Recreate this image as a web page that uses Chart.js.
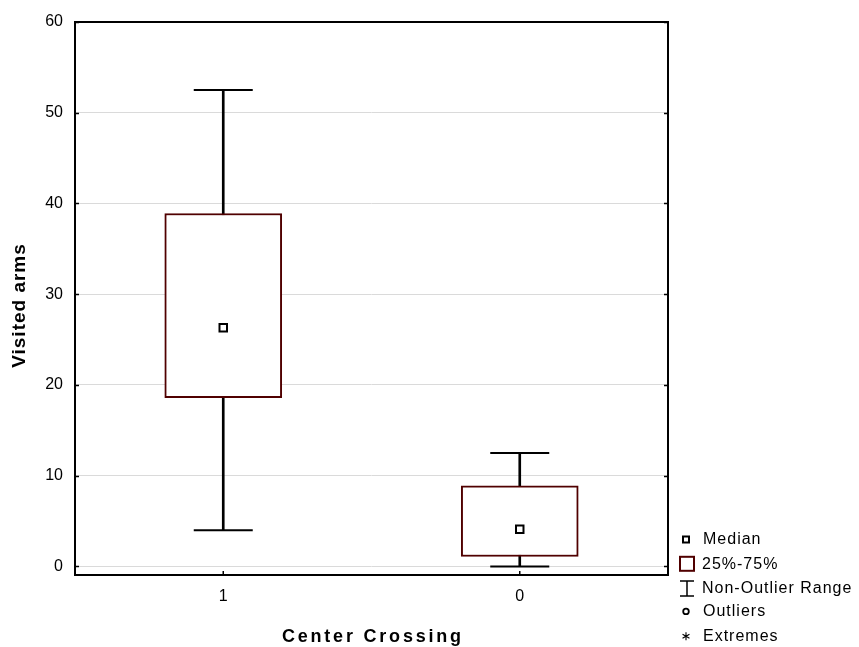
<!DOCTYPE html>
<html>
<head>
<meta charset="utf-8">
<script src="https://cdn.jsdelivr.net/npm/chart.js@4/dist/chart.umd.min.js"></script>
<style>
  html, body { margin: 0; padding: 0; background: #fff; }
  #wrap { width: 859px; height: 647px; }
</style>
</head>
<body>
<div id="wrap"><canvas id="c" width="859" height="647"></canvas></div>
<script>
// Box plot summary per group
const categories = ['1', '0'];
const medians = [26.3, 4.1];
const q1 = [18.6, 1.1];
const q3 = [38.9, 8.9];
const whiskerLow = [4.0, 0.0];
const whiskerHigh = [52.5, 12.5];
const yTicks = [0, 10, 20, 30, 40, 50, 60];
const legendLabels = ['Median', '25%-75%', 'Non-Outlier Range', 'Outliers', 'Extremes'];
const xTitle = 'Center Crossing';
const yTitle = 'Visited arms';

const FONT = "'Liberation Sans', Arial, Helvetica, sans-serif";
const BOX_COLOR = '#500000';

// Frame, inward tick marks, axis titles and the legend key
const decorPlugin = {
  id: 'decor',
  afterDraw(chart) {
    const { ctx, chartArea: a, scales: { x, y } } = chart;
    ctx.save();
    ctx.strokeStyle = '#000';
    ctx.lineWidth = 2;
    ctx.strokeRect(a.left, a.top, a.right - a.left, a.bottom - a.top);

    // tick marks pointing into the plot
    ctx.lineWidth = 1.5;
    ctx.beginPath();
    y.ticks.forEach(t => {
      const py = Math.round(y.getPixelForValue(t.value)) + 0.5;
      ctx.moveTo(a.left, py); ctx.lineTo(a.left + 4, py);
      ctx.moveTo(a.right - 4, py); ctx.lineTo(a.right, py);
    });
    categories.forEach((c, i) => {
      const px = x.getPixelForValue(i);
      ctx.moveTo(px, a.bottom); ctx.lineTo(px, a.bottom - 4);
    });
    ctx.stroke();

    // axis titles
    ctx.fillStyle = '#000';
    ctx.textAlign = 'center';
    ctx.textBaseline = 'alphabetic';
    ctx.font = 'bold 18px ' + FONT;
    ctx.letterSpacing = '2.8px';
    ctx.fillText(xTitle, (a.left + a.right) / 2 + 1.4, 642);

    ctx.save();
    ctx.translate(25, 306);
    ctx.rotate(-Math.PI / 2);
    ctx.font = 'bold 19px ' + FONT;
    ctx.letterSpacing = '1px';
    ctx.fillText(yTitle, 0.5, 0);
    ctx.restore();

    // legend key
    const rows = [539.5, 563.8, 588.1, 611.4, 636.2];
    const ix = 686;
    ctx.lineWidth = 2;
    ctx.strokeStyle = '#000';
    // median square
    ctx.strokeRect(ix - 3, rows[0] - 3, 6, 6);
    // quartile box
    ctx.strokeStyle = BOX_COLOR;
    ctx.lineWidth = 2;
    ctx.strokeRect(ix - 6, rows[1] - 7, 14, 14);
    // non-outlier range
    ctx.strokeStyle = '#000';
    ctx.lineWidth = 1.5;
    ctx.beginPath();
    ctx.moveTo(ix - 6, rows[2] - 7); ctx.lineTo(ix + 8, rows[2] - 7);
    ctx.moveTo(ix + 1, rows[2] - 7); ctx.lineTo(ix + 1, rows[2] + 8);
    ctx.moveTo(ix - 6, rows[2] + 8); ctx.lineTo(ix + 8, rows[2] + 8);
    ctx.stroke();
    // outlier circle
    ctx.lineWidth = 1.8;
    ctx.beginPath();
    ctx.arc(ix, rows[3], 2.8, 0, Math.PI * 2);
    ctx.stroke();
    // extreme asterisk
    ctx.lineWidth = 1.1;
    ctx.beginPath();
    const r = 4;
    for (let k = 0; k < 3; k++) {
      const ang = Math.PI / 2 + k * Math.PI / 3;
      ctx.moveTo(ix + Math.cos(ang) * r, rows[4] - Math.sin(ang) * r);
      ctx.lineTo(ix - Math.cos(ang) * r, rows[4] + Math.sin(ang) * r);
    }
    ctx.stroke();

    ctx.font = '16px ' + FONT;
    ctx.letterSpacing = '1px';
    ctx.textAlign = 'left';
    ctx.textBaseline = 'middle';
    ctx.fillStyle = '#000';
    const tx = [703, 702, 702, 703, 703];
    legendLabels.forEach((lbl, i) => ctx.fillText(lbl, tx[i], rows[i] + 0.5));
    ctx.restore();
  }
};

new Chart(document.getElementById('c'), {
  type: 'bar',
  data: {
    labels: categories,
    datasets: [
      {
        // whisker stems
        type: 'bar',
        data: categories.map((c, i) => [whiskerLow[i], whiskerHigh[i]]),
        backgroundColor: '#000',
        borderWidth: 0,
        barThickness: 2,
        grouped: false,
        order: 3
      },
      {
        // interquartile boxes
        type: 'bar',
        data: categories.map((c, i) => [q1[i], q3[i]]),
        backgroundColor: '#fff',
        borderColor: BOX_COLOR,
        borderWidth: 2,
        borderSkipped: false,
        barThickness: 117,
        grouped: false,
        order: 2
      },
      {
        // upper caps
        type: 'line',
        data: whiskerHigh,
        showLine: false,
        pointStyle: 'line',
        pointRadius: 29.5,
        pointBorderColor: '#000',
        pointBorderWidth: 2,
        order: 1
      },
      {
        // lower caps
        type: 'line',
        data: whiskerLow,
        showLine: false,
        pointStyle: 'line',
        pointRadius: 29.5,
        pointBorderColor: '#000',
        pointBorderWidth: 2,
        clip: false,
        order: 1
      },
      {
        // medians
        type: 'line',
        data: medians,
        showLine: false,
        pointStyle: 'rect',
        pointRadius: 5.3,
        pointBackgroundColor: '#fff',
        pointBorderColor: '#000',
        pointBorderWidth: 2,
        order: 0
      }
    ]
  },
  options: {
    responsive: false,
    devicePixelRatio: 1,
    animation: false,
    events: [],
    layout: { autoPadding: false, padding: { left: 0, right: 191, top: 22, bottom: 0 } },
    plugins: { legend: { display: false }, tooltip: { enabled: false } },
    scales: {
      x: {
        type: 'category',
        offset: true,
        grid: { display: false, drawTicks: false },
        border: { display: false },
        ticks: { color: '#000', font: { family: FONT, size: 16 }, padding: 12 },
        afterFit: s => { s.height = 72; s.paddingLeft = 0; s.paddingRight = 0; }
      },
      y: {
        min: -0.94,
        max: 60,
        grid: { color: '#dadada', lineWidth: 1, drawTicks: false },
        border: { display: false },
        ticks: { color: '#000', font: { family: FONT, size: 16 }, padding: 12 },
        afterBuildTicks: s => { s.ticks = yTicks.map(v => ({ value: v })); },
        afterFit: s => { s.width = 75; s.paddingTop = 0; s.paddingBottom = 0; }
      }
    }
  },
  plugins: [decorPlugin]
});
</script>
</body>
</html>
